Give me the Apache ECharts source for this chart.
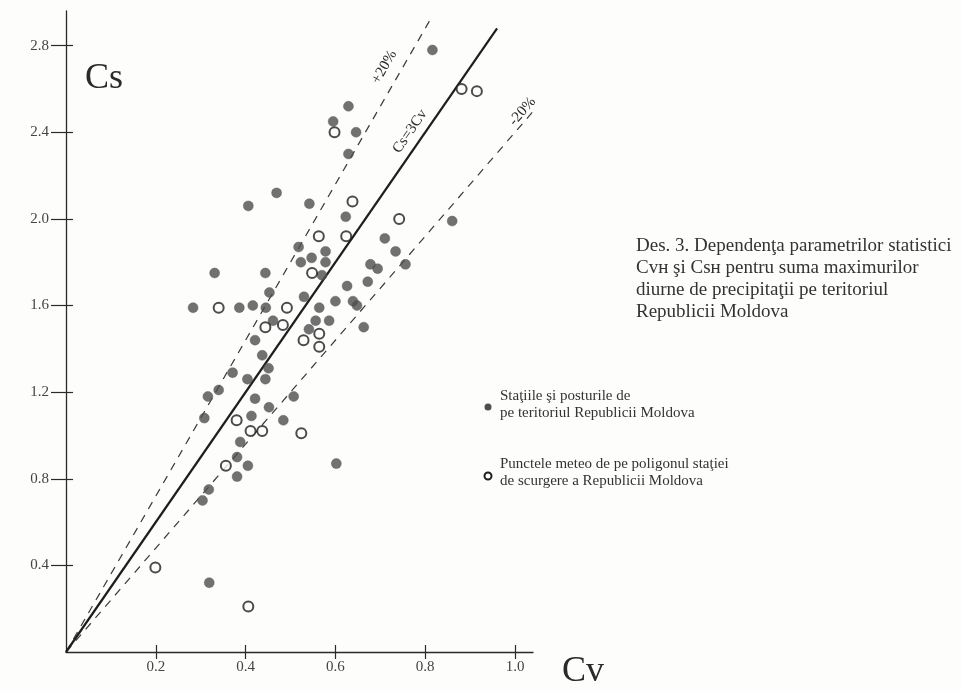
<!DOCTYPE html>
<html><head><meta charset="utf-8">
<script src="https://cdn.jsdelivr.net/npm/echarts@6/dist/echarts.min.js"></script>
<style>html,body{margin:0;padding:0;background:#fdfdfc}#c{width:961px;height:691px}</style>
</head><body><div id="c"></div>
<script>
// ---- data ----
const xTicks = [0.2, 0.4, 0.6, 0.8, 1.0];
const yTicks = [0.4, 0.8, 1.2, 1.6, 2.0, 2.4, 2.8];

// Staţiile şi posturile (filled dots)
const stationCv = [0.629,0.595,0.646,0.629,0.469,0.406,0.542,0.623,0.710,0.734,0.518,0.547,0.578,0.523,0.578,0.756,0.678,0.694,0.331,0.444,0.570,0.626,0.672,0.453,0.600,0.639,0.648,0.283,0.386,0.416,0.445,0.530,0.564,0.461,0.556,0.586,0.663,0.541,0.421,0.437,0.451,0.444,0.371,0.404,0.340,0.316,0.507,0.421,0.452,0.308,0.413,0.484,0.388,0.381,0.405,0.381,0.602,0.318,0.304,0.319,0.816,0.860];
const stationCs = [2.52,2.45,2.40,2.30,2.12,2.06,2.07,2.01,1.91,1.85,1.87,1.82,1.85,1.80,1.80,1.79,1.79,1.77,1.75,1.75,1.74,1.69,1.71,1.66,1.62,1.62,1.60,1.59,1.59,1.60,1.59,1.64,1.59,1.53,1.53,1.53,1.50,1.49,1.44,1.37,1.31,1.26,1.29,1.26,1.21,1.18,1.18,1.17,1.13,1.08,1.09,1.07,0.97,0.90,0.86,0.81,0.87,0.75,0.70,0.32,2.78,1.99];

// Punctele meteo (open circles)
const meteoCv = [0.598,0.638,0.742,0.563,0.624,0.548,0.340,0.492,0.483,0.444,0.564,0.529,0.564,0.380,0.411,0.437,0.524,0.356,0.199,0.406,0.881,0.915];
const meteoCs = [2.40,2.08,2.00,1.92,1.92,1.75,1.59,1.59,1.51,1.50,1.47,1.44,1.41,1.07,1.02,1.02,1.01,0.86,0.39,0.21,2.60,2.59];

// reference lines
const mainCv = [0, 0.96],  mainCs = [0, 2.88];    // Cs = 3Cv
const plusCv = [0, 0.815], plusCs = [0, 2.934];   // +20%
const minusCv = [0, 1.135], minusCs = [0, 2.724]; // -20%

const serif = '"Liberation Serif","Times New Roman",serif';
const zip = (a, b) => a.map((v, i) => [v, b[i]]);

const chart = echarts.init(document.getElementById('c'), null, {renderer: 'canvas'});

const axisCommon = {
  type: 'value', min: 0,
  splitLine: {show: false},
};
const tickStyle = {color: '#2a2a2a', width: 1.2};

chart.setOption({
  backgroundColor: '#fdfdfc',
  animation: false,
  grid: {left: 66, top: 11, right: 428, bottom: 39, containLabel: false},
  xAxis: [
    Object.assign({}, axisCommon, {
      max: 1.04, position: 'bottom',
      axisLine: {onZero: false, lineStyle: {color: '#2a2a2a', width: 1.3}},
      axisTick: {show: true, inside: false, length: 7, customValues: xTicks, lineStyle: tickStyle},
      axisLabel: {customValues: xTicks, margin: 8, color: '#444', fontFamily: serif, fontSize: 15,
        formatter: v => v.toFixed(1)}
    }),
    Object.assign({}, axisCommon, {
      max: 1.04, position: 'bottom',
      axisLine: {show: false, onZero: false},
      axisTick: {show: true, inside: true, length: 7, customValues: xTicks, lineStyle: tickStyle},
      axisLabel: {show: false}
    })
  ],
  yAxis: [
    Object.assign({}, axisCommon, {
      max: 2.96, position: 'left',
      axisLine: {show: true, onZero: false, lineStyle: {color: '#2a2a2a', width: 1.3}},
      axisTick: {show: true, inside: false, length: 15, customValues: yTicks, lineStyle: tickStyle},
      axisLabel: {customValues: yTicks, margin: 17, color: '#444', fontFamily: serif, fontSize: 15,
        formatter: v => v.toFixed(1)}
    }),
    Object.assign({}, axisCommon, {
      max: 2.96, position: 'left',
      axisLine: {show: false, onZero: false},
      axisTick: {show: true, inside: true, length: 7, customValues: yTicks, lineStyle: tickStyle},
      axisLabel: {show: false}
    })
  ],
  series: [
    {
      type: 'line', data: zip(plusCv, plusCs), showSymbol: false, clip: false, z: 1,
      lineStyle: {color: '#3a3a3a', width: 1.2, type: [8, 7]}
    },
    {
      type: 'line', data: zip(minusCv, minusCs), showSymbol: false, clip: false, z: 1,
      lineStyle: {color: '#3a3a3a', width: 1.2, type: [8, 7]}
    },
    {
      type: 'line', data: zip(mainCv, mainCs), showSymbol: false, clip: false, z: 2,
      lineStyle: {color: '#1e1e1e', width: 2.2}
    },
    {
      type: 'scatter', data: zip(stationCv, stationCs), symbol: 'circle', symbolSize: 10, z: 3,
      itemStyle: {color: '#4e4e4e', borderColor: '#5a5a5a', borderWidth: 0.5}
    },
    {
      type: 'scatter', data: zip(meteoCv, meteoCs), symbol: 'circle', symbolSize: 10, z: 4,
      itemStyle: {color: '#fdfdfc', borderColor: '#1e1e1e', borderWidth: 2}
    }
  ]
});

// annotation texts placed along the reference lines
const p = (x, y) => chart.convertToPixel({xAxisIndex: 0, yAxisIndex: 0}, [x, y]);
const angle = (k) => {
  const a = p(0, 0), b = p(1, k);
  return Math.atan2(a[1] - b[1], b[0] - a[0]);
};
function lineLabel(text, k, cv, off) {
  const pt = p(cv, k * cv);
  const r = angle(k);
  const x = pt[0] - Math.sin(r) * off, y = pt[1] - Math.cos(r) * off;
  return {type: 'text', x: x, y: y, rotation: r, z: 10,
    style: {text: text, font: '15px ' + serif, fill: '#2a2a2a', align: 'center', verticalAlign: 'middle'}};
}
const legendFont = '15px ' + serif;
chart.setOption({
  graphic: [
    {type: 'text', left: 85, top: 61, style: {text: 'Cs', font: '36px ' + serif, fill: '#2a2a2a'}},
    {type: 'text', left: 562, top: 654, style: {text: 'Cv', font: '36px ' + serif, fill: '#2a2a2a'}},
    lineLabel('Cs=3Cv', 3, 0.79, 13),
    lineLabel('+20%', 3.6, 0.74, 16),
    lineLabel('-20%', 2.4, 1.03, 8),
    {type: 'text', left: 636, top: 235, style: {
      text: 'Des. 3. Dependenţa parametrilor statistici\nCvн şi Csн pentru suma maximurilor\ndiurne de precipitaţii pe teritoriul\nRepublicii Moldova',
      font: '19px ' + serif, lineHeight: 22, fill: '#333'}},
    {type: 'circle', shape: {cx: 488, cy: 407, r: 3.5}, style: {fill: '#4e4e4e'}},
    {type: 'text', left: 500, top: 388, style: {
      text: 'Staţiile şi posturile de\npe teritoriul Republicii Moldova', font: legendFont, lineHeight: 17, fill: '#333'}},
    {type: 'circle', shape: {cx: 488, cy: 476, r: 3.5}, style: {fill: '#fdfdfc', stroke: '#1e1e1e', lineWidth: 2}},
    {type: 'text', left: 500, top: 456, style: {
      text: 'Punctele meteo de pe poligonul staţiei\nde scurgere a Republicii Moldova', font: legendFont, lineHeight: 17, fill: '#333'}}
  ]
});
</script>
</body></html>
